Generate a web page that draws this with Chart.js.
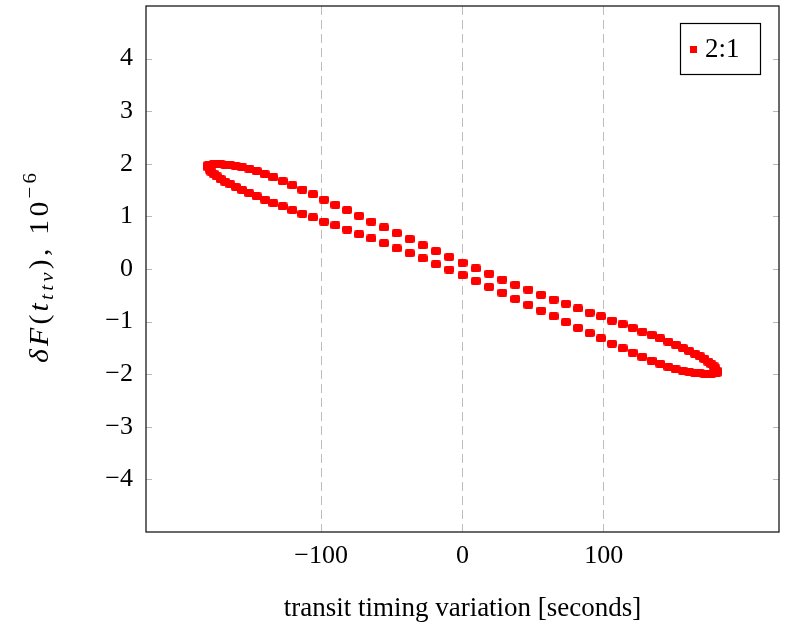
<!DOCTYPE html>
<html>
<head>
<meta charset="utf-8">
<script src="https://cdn.jsdelivr.net/npm/chart.js@4.4.1/dist/chart.umd.min.js"></script>
<style>
  html, body { margin: 0; padding: 0; background: #fff; }
  #wrap { width: 808px; height: 642px; }
</style>
</head>
<body>
<div id="wrap"><canvas id="ttvChart"></canvas></div>
<script>
// tick values on both axes
const xTicks = [-100, 0, 100];
const yTicks = [-4, -3, -2, -1, 0, 1, 2, 3, 4];

// one loop of the 2:1 case
// transit timing variation in seconds
const ttvSeconds = [
  180.0, 179.8, 179.0, 177.8, 176.1, 173.9, 171.2, 168.0, 164.4, 160.4,
  155.9, 151.0, 145.6, 139.9, 133.8, 127.3, 120.4, 113.3, 105.8, 98.0,
  90.0, 81.7, 73.2, 64.5, 55.6, 46.6, 37.4, 28.2, 18.8, 9.4,
  0.0, -9.4, -18.8, -28.2, -37.4, -46.6, -55.6, -64.5, -73.2, -81.7,
  -90.0, -98.0, -105.8, -113.3, -120.4, -127.3, -133.8, -139.9, -145.6, -151.0,
  -155.9, -160.4, -164.4, -168.0, -171.2, -173.9, -176.1, -177.8, -179.0, -179.8,
  -180.0, -179.8, -179.0, -177.8, -176.1, -173.9, -171.2, -168.0, -164.4, -160.4,
  -155.9, -151.0, -145.6, -139.9, -133.8, -127.3, -120.4, -113.3, -105.8, -98.0,
  -90.0, -81.7, -73.2, -64.5, -55.6, -46.6, -37.4, -28.2, -18.8, -9.4,
  0.0, 9.4, 18.8, 28.2, 37.4, 46.6, 55.6, 64.5, 73.2, 81.7,
  90.0, 98.0, 105.8, 113.3, 120.4, 127.3, 133.8, 139.9, 145.6, 151.0,
  155.9, 160.4, 164.4, 168.0, 171.2, 173.9, 176.1, 177.8, 179.0, 179.8
];
// flux change, units of 10^-6
const fluxShift = [
  -1.96, -1.93, -1.89, -1.85, -1.81, -1.76, -1.71, -1.66, -1.61, -1.56,
  -1.50, -1.44, -1.38, -1.32, -1.25, -1.19, -1.12, -1.05, -0.98, -0.90,
  -0.83, -0.75, -0.66, -0.58, -0.49, -0.39, -0.30, -0.20, -0.09, 0.01,
  0.12, 0.23, 0.34, 0.45, 0.57, 0.68, 0.79, 0.90, 1.01, 1.12,
  1.22, 1.32, 1.42, 1.51, 1.59, 1.67, 1.74, 1.80, 1.86, 1.91,
  1.93, 1.95, 1.97, 1.98, 1.99, 1.99, 1.99, 1.98, 1.97, 1.97,
  1.96, 1.93, 1.89, 1.85, 1.81, 1.76, 1.71, 1.66, 1.61, 1.56,
  1.50, 1.44, 1.38, 1.32, 1.25, 1.19, 1.12, 1.05, 0.98, 0.90,
  0.83, 0.75, 0.66, 0.58, 0.49, 0.39, 0.30, 0.20, 0.09, -0.01,
  -0.12, -0.23, -0.34, -0.45, -0.57, -0.68, -0.79, -0.90, -1.01, -1.12,
  -1.22, -1.32, -1.42, -1.51, -1.59, -1.67, -1.74, -1.80, -1.86, -1.91,
  -1.93, -1.95, -1.97, -1.98, -1.99, -1.99, -1.99, -1.98, -1.97, -1.97
];
const seriesLabel = '2:1';

const serif = "'Liberation Serif', 'DejaVu Serif', serif";
const red = '#ff0000';

// the marks in the picture are a bit wider than tall
function makeMarker() {
    const c = document.createElement('canvas');
    c.width = 10;
    c.height = 8;
    const g = c.getContext('2d');
    g.fillStyle = red;
    g.beginPath();
    if (g.roundRect) g.roundRect(0, 0, 10, 8, 2); else g.rect(0, 0, 10, 8);
    g.fill();
    return c;
}

function minusSign(v) {
    return String(v).replace('-', '\u2212');
}

// black frame + short grey y ticks on both inner sides
const plotFrame = {
    id: 'plotFrame',
    afterDraw(chart) {
        const ctx = chart.ctx;
        const a = chart.chartArea;
        const y = chart.scales.y;
        ctx.save();
        ctx.strokeStyle = '#b8b8b8';
        ctx.lineWidth = 1;
        yTicks.forEach(v => {
            const py = Math.round(y.getPixelForValue(v)) + 0.5;
            ctx.beginPath();
            ctx.moveTo(a.left, py);
            ctx.lineTo(a.left + 6, py);
            ctx.moveTo(a.right - 6, py);
            ctx.lineTo(a.right, py);
            ctx.stroke();
        });
        ctx.strokeStyle = '#1a1a1a';
        ctx.lineWidth = 1.3;
        ctx.strokeRect(a.left, a.top, a.right - a.left, a.bottom - a.top);
        ctx.restore();
    }
};

// boxed legend in the upper right corner of the plot
const boxLegend = {
    id: 'boxLegend',
    afterDraw(chart) {
        const ctx = chart.ctx;
        const a = chart.chartArea;
        const ds = chart.data.datasets[0];
        const x0 = a.right - 99, y0 = a.top + 17, w = 80, h = 51;
        ctx.save();
        ctx.fillStyle = '#fff';
        ctx.fillRect(x0, y0, w, h);
        ctx.strokeStyle = '#000';
        ctx.lineWidth = 1.2;
        ctx.strokeRect(x0 + 0.5, y0 + 0.5, w, h);
        ctx.fillStyle = red;
        ctx.fillRect(x0 + 10, y0 + 23, 7, 7);
        ctx.fillStyle = '#000';
        ctx.font = '27px ' + serif;
        ctx.textBaseline = 'middle';
        ctx.fillText(ds.label, x0 + 25, y0 + 27);
        ctx.restore();
    }
};

// y title with subscript and superscript, drawn by hand, letters spread out
const yTitle = {
    id: 'yTitle',
    afterDraw(chart) {
        const ctx = chart.ctx;
        const big = 27, small = 19;
        const parts = [
            {text: '\u03b4F', font: 'italic ' + big + 'px ' + serif, dy: 0},
            {text: '(', font: big + 'px ' + serif, dy: 0},
            {text: 't', font: 'italic ' + big + 'px ' + serif, dy: 0},
            {text: 'ttv', font: 'italic ' + small + 'px ' + serif, dy: 5},
            {text: '),\u00a010', font: big + 'px ' + serif, dy: 0},
            {text: '\u22126', font: small + 'px ' + serif, dy: -12}
        ];
        ctx.save();
        let plain = 0, count = 0;
        parts.forEach(p => {
            ctx.font = p.font;
            p.chars = Array.from(p.text).map(ch => ({ch, w: ctx.measureText(ch).width}));
            p.chars.forEach(c => { plain += c.w; count++; });
        });
        const stretch = 1.1;
        const gap = Math.max(0, (190 / stretch - plain) / (count - 1));
        const total = plain + gap * (count - 1);
        ctx.translate(48, 268);
        ctx.rotate(-Math.PI / 2);
        ctx.scale(stretch, 1);
        ctx.fillStyle = '#000';
        ctx.textBaseline = 'alphabetic';
        let cx = -total / 2;
        parts.forEach(p => {
            ctx.font = p.font;
            p.chars.forEach(c => {
                ctx.fillText(c.ch, cx, p.dy);
                cx += c.w + gap;
            });
        });
        ctx.restore();
    }
};

const points = ttvSeconds.map((v, i) => ({x: v, y: fluxShift[i]}));

new Chart(document.getElementById('ttvChart'), {
    type: 'scatter',
    data: {
        datasets: [{
            label: seriesLabel,
            data: points,
            pointStyle: makeMarker(),
            pointRadius: 5,
            backgroundColor: red,
            borderWidth: 0
        }]
    },
    options: {
        responsive: true,
        maintainAspectRatio: false,
        animation: false,
        layout: {padding: {left: 0, top: 6, right: 29, bottom: 0}},
        plugins: {
            legend: {display: false},
            tooltip: {enabled: false}
        },
        scales: {
            x: {
                type: 'linear',
                min: -224,
                max: 224,
                afterBuildTicks: s => { s.ticks = xTicks.map(v => ({value: v})); },
                afterFit: s => {
                    s.height = 110;
                    s.paddingLeft = 0;
                    s.paddingRight = 0;
                },
                grid: {color: '#bdbdbd', lineWidth: 1, drawTicks: false},
                border: {display: false, dash: [9, 5]},
                ticks: {
                    padding: 9,
                    color: '#000',
                    font: {family: serif, size: 26},
                    callback: v => minusSign(v)
                },
                title: {
                    display: true,
                    text: 'transit timing variation [seconds]',
                    color: '#000',
                    font: {family: serif, size: 27},
                    padding: {top: 0, bottom: 17}
                }
            },
            y: {
                type: 'linear',
                min: -5,
                max: 5,
                afterBuildTicks: s => { s.ticks = yTicks.map(v => ({value: v})); },
                afterFit: s => {
                    s.width = 146;
                    s.paddingTop = 0;
                    s.paddingBottom = 0;
                },
                grid: {display: false, drawTicks: false},
                border: {display: false},
                ticks: {
                    padding: 13,
                    color: '#000',
                    font: {family: serif, size: 26},
                    callback: v => minusSign(v)
                }
            }
        }
    },
    plugins: [plotFrame, boxLegend, yTitle]
});
</script>
</body>
</html>
